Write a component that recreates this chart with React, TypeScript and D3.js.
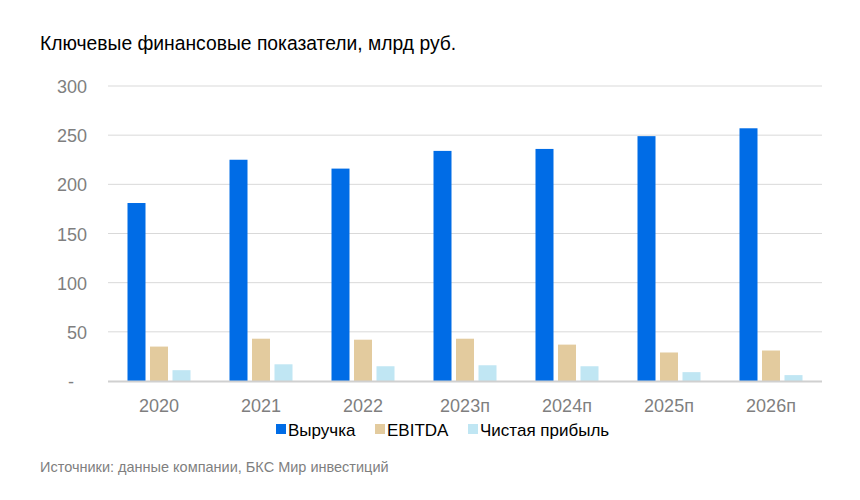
import React from 'react';
import * as d3 from 'd3';

const years = ['2020', '2021', '2022', '2023п', '2024п', '2025п', '2026п'];
const revenue = [181, 225, 216, 234, 236, 249, 257];
const ebitda = [35, 43, 42, 43, 37, 29, 31];
const netProfit = [11, 17, 15, 16, 15, 9, 6];
const yTicks = [0, 50, 100, 150, 200, 250, 300];

const seriesNames = ['Выручка', 'EBITDA', 'Чистая прибыль'];
const colors = ['#006CE6', '#E3CB9E', '#C0E6F3'];

const App = () => {
  const width = 860;
  const height = 500;
  const left = 108;
  const right = 822;
  const top = 86;
  const bottom = 381;

  const x = d3.scaleBand().domain(years).range([left, right]).paddingInner(0).paddingOuter(0);
  const y = d3.scaleLinear().domain([0, 300]).range([bottom, top]);

  const barW = 18;
  const gap = 4.5;
  const series = [revenue, ebitda, netProfit];
  const offsets = series.map((_, i) => (i - 1) * (barW + gap) - barW / 2);

  const font = 'Arial, "Liberation Sans", sans-serif';
  const legendX = [276, 375, 468];

  return (
    <svg width={width} height={height} style={{ display: 'block', margin: -8 }} fontFamily={font}>
      <rect width={width} height={height} fill="#fff" />
      <text x={40} y={50} fontSize={19.3} fill="#000">
        Ключевые финансовые показатели, млрд руб.
      </text>

      {yTicks.map((t) => (
        <g key={t}>
          {t > 0 && <line x1={left} x2={right} y1={y(t)} y2={y(t)} stroke="#d9d9d9" strokeWidth={1} />}
          <text x={t === 0 ? 74 : 87} y={y(t) + 7} fontSize={18} fill="#7f7f7f" textAnchor="end">
            {t === 0 ? '-' : t}
          </text>
        </g>
      ))}

      {series.map((vals, si) =>
        vals.map((v, i) => (
          <rect
            key={`${si}-${i}`}
            x={(x(years[i]) as number) + x.bandwidth() / 2 + offsets[si]}
            y={y(v)}
            width={barW}
            height={bottom - y(v)}
            fill={colors[si]}
          />
        ))
      )}

      <line x1={left} x2={right} y1={bottom + 0.5} y2={bottom + 0.5} stroke="#d0d0d0" strokeWidth={2} />

      {years.map((yr) => (
        <text
          key={yr}
          x={(x(yr) as number) + x.bandwidth() / 2}
          y={412}
          fontSize={18}
          fill="#7f7f7f"
          textAnchor="middle"
        >
          {yr}
        </text>
      ))}

      {seriesNames.map((name, i) => (
        <g key={name}>
          <rect x={legendX[i]} y={424} width={10} height={10} fill={colors[i]} />
          <text x={legendX[i] + 12} y={436} fontSize={17} fill="#000">
            {name}
          </text>
        </g>
      ))}

      <text x={40} y={472} fontSize={14.5} fill="#7f7f7f">
        Источники: данные компании, БКС Мир инвестиций
      </text>
    </svg>
  );
};

export default App;
